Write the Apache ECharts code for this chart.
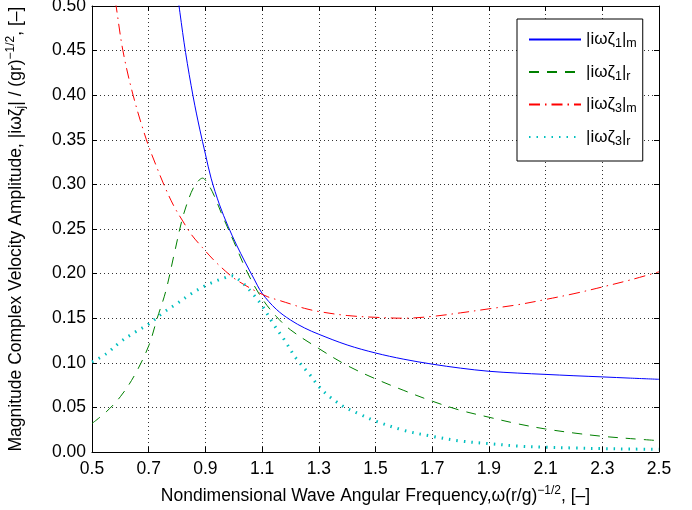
<!DOCTYPE html>
<html><head><meta charset="utf-8">
<script src="https://cdn.jsdelivr.net/npm/echarts@6/dist/echarts.min.js"></script>
<style>html,body{margin:0;padding:0;background:#fff}#c{width:692px;height:510px}</style>
</head><body><div id="c"></div>
<script>
// ---- tick values ----
const xTicks = [0.5, 0.7, 0.9, 1.1, 1.3, 1.5, 1.7, 1.9, 2.1, 2.3, 2.5];
const yTicks = [0, 0.05, 0.10, 0.15, 0.20, 0.25, 0.30, 0.35, 0.40, 0.45, 0.50];

// ---- series names ----
const names = ['z1m', 'z1r', 'z3m', 'z3r'];

// |iω ζ1|_m
const omega1m = [0.80, 0.81, 0.83, 0.857, 0.88, 0.90, 0.92, 0.95, 0.98, 1.01, 1.04, 1.07, 1.10, 1.15, 1.20, 1.25, 1.30, 1.40, 1.50, 1.60, 1.70, 1.80, 1.90, 2.00, 2.10, 2.20, 2.30, 2.40, 2.50];
const amp1m   = [0.517, 0.493, 0.448, 0.398, 0.362, 0.334, 0.307, 0.277, 0.253, 0.232, 0.213, 0.195, 0.178, 0.160, 0.148, 0.139, 0.132, 0.120, 0.111, 0.104, 0.0985, 0.094, 0.0905, 0.0885, 0.087, 0.0855, 0.0842, 0.0828, 0.0815];

// |iω ζ1|_r
const omega1r = [0.50, 0.55, 0.60, 0.65, 0.70, 0.73, 0.76, 0.79, 0.82, 0.85, 0.87, 0.89, 0.91, 0.93, 0.96, 1.00, 1.05, 1.10, 1.15, 1.20, 1.30, 1.40, 1.50, 1.60, 1.70, 1.80, 1.90, 2.00, 2.10, 2.20, 2.30, 2.40, 2.50];
const amp1r   = [0.032, 0.045, 0.062, 0.086, 0.119, 0.150, 0.180, 0.222, 0.263, 0.291, 0.302, 0.307, 0.300, 0.288, 0.265, 0.236, 0.200, 0.172, 0.152, 0.137, 0.116, 0.097, 0.082, 0.069, 0.057, 0.0467, 0.039, 0.0317, 0.0258, 0.0213, 0.0176, 0.015, 0.0127];

// |iω ζ3|_m
const omega3m = [0.57, 0.585, 0.609, 0.645, 0.692, 0.73, 0.76, 0.79, 0.82, 0.85, 0.89, 0.93, 0.97, 1.00, 1.04, 1.08, 1.12, 1.16, 1.20, 1.25, 1.30, 1.40, 1.50, 1.60, 1.70, 1.80, 1.90, 2.00, 2.10, 2.20, 2.30, 2.40, 2.50];
const amp3m   = [0.530, 0.500, 0.450, 0.400, 0.350, 0.318, 0.295, 0.275, 0.259, 0.244, 0.229, 0.215, 0.203, 0.195, 0.187, 0.180, 0.174, 0.170, 0.166, 0.161, 0.1575, 0.153, 0.151, 0.150, 0.152, 0.156, 0.1605, 0.165, 0.171, 0.1775, 0.185, 0.193, 0.202];

// |iω ζ3|_r
const omega3r = [0.50, 0.55, 0.60, 0.65, 0.70, 0.75, 0.80, 0.85, 0.90, 0.94, 0.97, 0.99, 1.00, 1.03, 1.06, 1.10, 1.14, 1.18, 1.22, 1.27, 1.30, 1.34, 1.39, 1.44, 1.50, 1.60, 1.70, 1.80, 1.90, 2.00, 2.10, 2.20, 2.30, 2.40, 2.50];
const amp3r   = [0.101, 0.110, 0.1235, 0.134, 0.1435, 0.156, 0.1665, 0.1775, 0.1865, 0.192, 0.1955, 0.1975, 0.197, 0.190, 0.180, 0.164, 0.1435, 0.125, 0.105, 0.086, 0.0735, 0.0615, 0.0505, 0.043, 0.0347, 0.0243, 0.0176, 0.0123, 0.0094, 0.0067, 0.0053, 0.0045, 0.0038, 0.0033, 0.003];

const FONT = '"Liberation Sans", Arial, Helvetica, sans-serif';
const pair = (xs, ys) => xs.map((x, i) => [x, ys[i]]);

const legendText = {
  z1m: '{b|\u007ci\u03c9\u03b6}{s|1}{b|\u007c}{s|m}',
  z1r: '{b|\u007ci\u03c9\u03b6}{s|1}{b|\u007c}{s|r}',
  z3m: '{b|\u007ci\u03c9\u03b6}{s|3}{b|\u007c}{s|m}',
  z3r: '{b|\u007ci\u03c9\u03b6}{s|3}{b|\u007c}{s|r}'
};

const richTitle = {
  b: {fontSize: 17.5, fontFamily: FONT, color: '#000', lineHeight: 22},
  s: {fontSize: 12, fontFamily: FONT, color: '#000', lineHeight: 11, verticalAlign: 'bottom'},
  p: {fontSize: 12, fontFamily: FONT, color: '#000', lineHeight: 11, verticalAlign: 'top'}
};
const richLegend = {
  b: {fontSize: 17, fontFamily: FONT, color: '#000', lineHeight: 22},
  s: {fontSize: 12.5, fontFamily: FONT, color: '#000', lineHeight: 11, verticalAlign: 'bottom'}
};

function mkLine(name, xs, ys, color, dash, width) {
  return {
    name, type: 'line', data: pair(xs, ys), showSymbol: false, symbol: 'none',
    smooth: 0.35, clip: true,
    lineStyle: {color, width: width || 1, type: dash},
    itemStyle: {color},
    z: 3
  };
}

const chart = echarts.init(document.getElementById('c'), null, {renderer: 'canvas'});
const axisLineStyle = {show: true, onZero: false, lineStyle: {color: '#000', width: 1}};
const tickStyle = {show: true, inside: true, length: 5, lineStyle: {color: '#000'}};
const gridLine = {show: true, lineStyle: {color: '#333', width: 1, type: [1, 3]}};

chart.setOption({
  animation: false,
  backgroundColor: '#fff',
  grid: {left: 92, right: 33, top: 6, bottom: 58, containLabel: false, outerBoundsMode: 'none'},
  xAxis: [
    {
      type: 'value', min: 0.5, max: 2.5, position: 'bottom',
      axisLine: axisLineStyle,
      axisTick: Object.assign({}, tickStyle, {customValues: xTicks}),
      axisLabel: {customValues: xTicks, formatter: v => v.toFixed(1), color: '#000', fontSize: 17.5, fontFamily: FONT, margin: 8},
      splitLine: gridLine,
      name: '{b|Nondimensional Wave Angular Frequency,\u03c9(r/g)}{p|\u22121/2}{b|, [\u2013]}',
      nameLocation: 'middle', nameGap: 33,
      nameTextStyle: {rich: richTitle}
    },
    {
      type: 'value', min: 0.5, max: 2.5, position: 'top',
      axisLine: axisLineStyle,
      axisTick: Object.assign({}, tickStyle, {customValues: xTicks}),
      axisLabel: {show: false}, splitLine: {show: false}
    }
  ],
  yAxis: [
    {
      type: 'value', min: yTicks[0], max: yTicks[yTicks.length - 1], interval: 0.05, position: 'left',
      axisLine: axisLineStyle, axisTick: tickStyle,
      axisLabel: {formatter: v => v.toFixed(2), color: '#000', fontSize: 17.5, fontFamily: FONT, margin: 6},
      splitLine: gridLine,
      name: '{b|Magnitude Complex Velocity Amplitude, \u007ci\u03c9\u03b6}{s|j}{b|\u007c / (gr)}{p|\u22121/2}{b|, [\u2013]}',
      nameLocation: 'middle', nameGap: 65, nameRotate: 90,
      nameTextStyle: {rich: richTitle}
    },
    {
      type: 'value', min: yTicks[0], max: yTicks[yTicks.length - 1], interval: 0.05, position: 'right',
      axisLine: axisLineStyle, axisTick: tickStyle,
      axisLabel: {show: false}, splitLine: {show: false}
    }
  ],
  legend: {
    orient: 'vertical', left: 517, top: 19,
    padding: [12, 6, 13, 11], itemGap: 13, itemWidth: 52, itemHeight: 14,
    borderColor: '#000', borderWidth: 1, backgroundColor: '#fff',
    data: names.map(n => ({name: n})),
    formatter: n => legendText[n],
    textStyle: {rich: richLegend},
    itemStyle: {opacity: 0}
  },
  series: [
    mkLine('z1m', omega1m, amp1m, '#0000ff', 'solid', 1),
    mkLine('z1r', omega1r, amp1r, '#008000', [10, 8], 1),
    mkLine('z3m', omega3m, amp3m, '#ff0000', [11, 5, 1.5, 5], 1),
    mkLine('z3r', omega3r, amp3r, '#00bfbf', [1.5, 6], 3)
  ]
});
</script>
</body></html>
